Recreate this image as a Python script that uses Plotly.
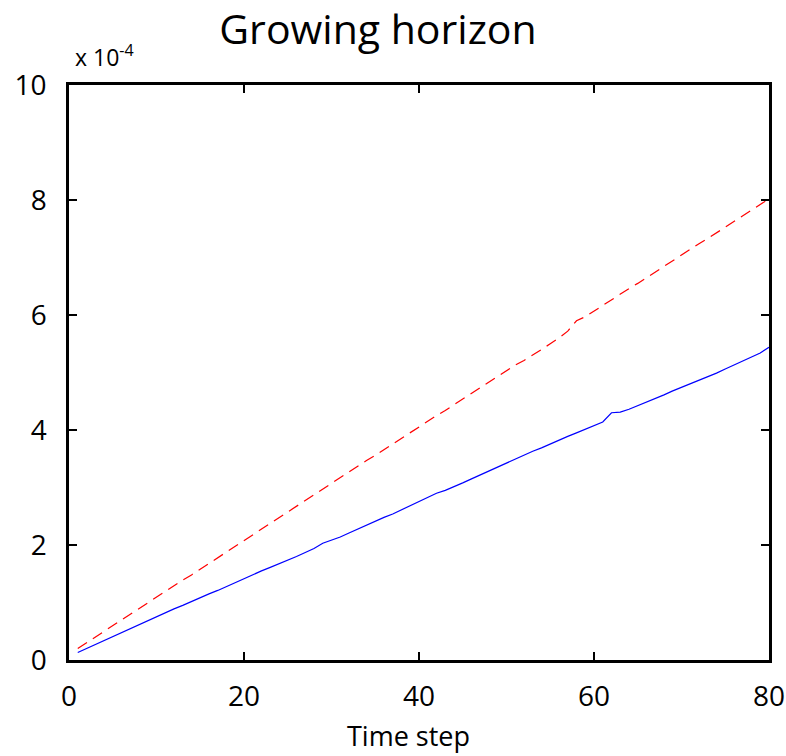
import plotly.graph_objects as go

# Time steps 1..80
time_step = list(range(1, 81))

# Values in units of 1e-4
growing_dashed = [
    0.20, 0.30, 0.40, 0.50, 0.60, 0.70, 0.79, 0.89, 0.99, 1.09,
    1.19, 1.29, 1.39, 1.48, 1.58, 1.68, 1.78, 1.88, 1.98, 2.08,
    2.18, 2.28, 2.38, 2.48, 2.58, 2.67, 2.77, 2.87, 2.97, 3.07,
    3.17, 3.27, 3.37, 3.47, 3.56, 3.66, 3.76, 3.86, 3.95, 4.05,
    4.15, 4.25, 4.34, 4.44, 4.54, 4.64, 4.74, 4.83, 4.93, 5.03,
    5.13, 5.21, 5.30, 5.40, 5.50, 5.60, 5.72, 5.90, 5.97, 6.07,
    6.16, 6.26, 6.36, 6.46, 6.55, 6.65, 6.75, 6.85, 6.94, 7.04,
    7.14, 7.24, 7.33, 7.43, 7.53, 7.63, 7.73, 7.82, 7.92, 8.02,
]

growing_solid = [
    0.13, 0.20, 0.27, 0.34, 0.41, 0.48, 0.55, 0.62, 0.69, 0.76,
    0.82, 0.89, 0.95, 1.02, 1.08, 1.15, 1.21, 1.28, 1.34, 1.41,
    1.48, 1.55, 1.61, 1.67, 1.74, 1.80, 1.87, 1.94, 2.03, 2.08,
    2.14, 2.21, 2.28, 2.34, 2.42, 2.48, 2.54, 2.61, 2.69, 2.76,
    2.83, 2.90, 2.95, 3.01, 3.08, 3.15, 3.22, 3.29, 3.36, 3.43,
    3.50, 3.56, 3.63, 3.69, 3.76, 3.83, 3.89, 3.95, 4.01, 4.08,
    4.14, 4.30, 4.31, 4.36, 4.42, 4.48, 4.54, 4.61, 4.68, 4.74,
    4.80, 4.87, 4.93, 4.99, 5.06, 5.13, 5.20, 5.26, 5.34, 5.44,
]

x_ticks = [0, 20, 40, 60, 80]
y_ticks = [0, 2, 4, 6, 8, 10]

FONT = "Open Sans"
W, H = 786, 756
ML, MR, MT, MB = 69, 17, 85, 96

fig = go.Figure()
fig.add_trace(go.Scatter(
    x=time_step, y=growing_dashed, mode="lines",
    line=dict(color="#ff0000", width=1.2, dash="11px,7px"),
    showlegend=False,
))
fig.add_trace(go.Scatter(
    x=time_step, y=growing_solid, mode="lines",
    line=dict(color="#0000ff", width=1.2),
    showlegend=False,
))

axis_common = dict(
    showline=True, linecolor="black", linewidth=2.5, mirror="ticks",
    ticks="inside", ticklen=8, tickwidth=2, tickcolor="black",
    showgrid=False, zeroline=False, automargin=False,
    tickfont=dict(family=FONT, size=28, color="black"),
)

fig.update_xaxes(range=[0, 80], tickvals=x_ticks, ticklabelstandoff=10,
                 **axis_common)
fig.update_yaxes(range=[0, 10], tickvals=y_ticks, ticklabelstandoff=14,
                 **axis_common)

plot_w = W - ML - MR
plot_h = H - MT - MB

# x-axis label, placed a little left of the plot centre
fig.add_annotation(
    text="Time step", xref="paper", yref="paper",
    x=(408 - ML) / plot_w, y=-(735 - (H - MB)) / plot_h,
    xanchor="center", yanchor="middle", showarrow=False,
    font=dict(family=FONT, size=27, color="black"),
)

# scale factor for the y values
fig.add_annotation(
    text="x 10<sup>-4</sup>", xref="paper", yref="paper",
    x=0.005, y=1.0, xanchor="left", yanchor="bottom", yshift=10,
    showarrow=False, font=dict(family=FONT, size=23, color="black"),
)

fig.update_layout(
    width=W, height=H,
    margin=dict(l=ML, r=MR, t=MT, b=MB),
    paper_bgcolor="white", plot_bgcolor="white",
    title=dict(text="Growing horizon", x=(378 / W), xanchor="center",
               y=1 - 30 / H, yanchor="middle",
               font=dict(family=FONT, size=41, color="black")),
)

fig.write_html("out.html")
